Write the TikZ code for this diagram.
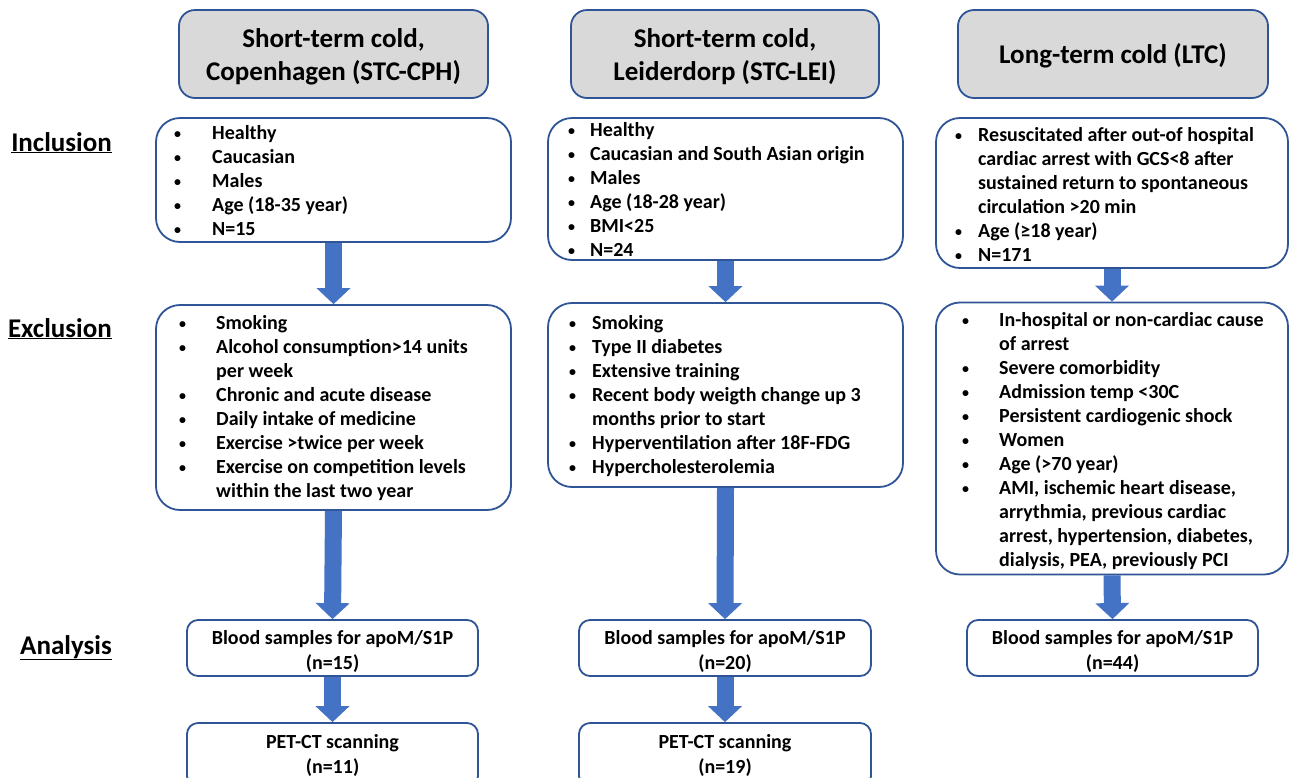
\documentclass[tikz,border=0pt]{standalone}
\usepackage{fontspec}
\setmainfont{Carlito}
\usetikzlibrary{arrows.meta}
\definecolor{bordblue}{HTML}{2F5597}
\definecolor{arrblue}{HTML}{4472C4}
\definecolor{hdrgray}{HTML}{D9D9D9}
\newcommand{\nl}{\hfil\break}
\newcommand{\smbullet}{\raisebox{1.2pt}{\fontsize{14}{14}\selectfont\textbullet}}
\newcommand{\bitem}[2]{\par\hangindent=#1\hangafter=1\noindent\makebox[#1][l]{\smbullet}#2}
\newcommand{\blist}[2]{\parbox[t]{#1}{\fontsize{20}{24}\selectfont\bfseries\raggedright #2}}
\tikzset{
  hdr/.style={draw=bordblue, line width=1.8pt, fill=hdrgray, rounded corners=16pt, inner sep=0pt},
  hdrtext/.style={inner sep=0pt, align=center, font=\fontsize{27}{33}\selectfont\bfseries},
  bigbox/.style={draw=bordblue, line width=1.8pt, fill=white, rounded corners=24pt, inner sep=0pt},
  smallbox/.style={draw=bordblue, line width=1.8pt, fill=white, rounded corners=11pt, inner sep=0pt},
  smalltext/.style={inner sep=0pt, align=center, font=\fontsize{20}{25}\selectfont\bfseries},
  listtext/.style={anchor=base west, inner sep=0pt},
  rowlabel/.style={anchor=base east, inner sep=0pt, font=\fontsize{27}{30}\selectfont\bfseries},
  bigarrow/.style={draw=arrblue, line width=17pt, -{Triangle[width=34pt,length=16pt,line width=0pt]}},
}
\begin{document}
\begin{tikzpicture}[x=1pt,y=-1pt]
\useasboundingbox (0,0) rectangle (1290,777);
\clip (0,0) rectangle (1290,777);
\fill[white] (0,0) rectangle (1290,777);

% row labels
\node[rowlabel] (linc) at (112,151) {\underline{Inclusion}};
\node[rowlabel] (lexc) at (112,337) {\underline{Exclusion}};
\node[rowlabel] (lana) at (112,654) {\underline{Analysis}};

% headers
\node[hdr, minimum width=309pt, minimum height=88pt] (h1) at (333.5,54) {};
\node[hdr, minimum width=308pt, minimum height=88pt] (h2) at (725,54) {};
\node[hdr, minimum width=310pt, minimum height=88pt] (h3) at (1113,54) {};
\node[hdrtext] (h1t) at ([yshift=-3pt]h1.center) {Short-term cold,\\Copenhagen (STC-CPH)};
\node[hdrtext] (h2t) at ([yshift=-3pt]h2.center) {Short-term cold,\\Leiderdorp (STC-LEI)};
\node[hdrtext] (h3t) at ([yshift=-2pt]h3.center) {Long-term cold (LTC)};

% inclusion boxes
\node[bigbox, minimum width=355pt, minimum height=124pt] (i1) at (333.5,180) {};
\node[bigbox, minimum width=355pt, minimum height=142pt] (i2) at (725.5,189) {};
\node[bigbox, minimum width=352pt, minimum height=150pt] (i3) at (1112,193) {};

% exclusion boxes
\node[bigbox, minimum width=355pt, minimum height=205pt] (e1) at (333.5,407.5) {};
\node[bigbox, minimum width=355pt, minimum height=184pt] (e2) at (725.5,395) {};
\node[bigbox, minimum width=352pt, minimum height=272pt] (e3) at (1112,438.5) {};

% analysis boxes
\node[smallbox, minimum width=291pt, minimum height=56pt] (a1) at (332.5,648) {};
\node[smallbox, minimum width=292pt, minimum height=56pt] (a2) at (725,648) {};
\node[smallbox, minimum width=291pt, minimum height=56pt] (a3) at (1112.5,648) {};
\node[smalltext] (a1t) at ([yshift=-3pt]a1.center) {Blood samples for apoM/S1P\\(n=15)};
\node[smalltext] (a2t) at ([yshift=-3pt]a2.center) {Blood samples for apoM/S1P\\(n=20)};
\node[smalltext] (a3t) at ([yshift=-3pt]a3.center) {Blood samples for apoM/S1P\\(n=44)};

% PET-CT boxes (cut off at bottom)
\node[smallbox, minimum width=291pt, minimum height=64pt] (p1) at (332.5,755) {};
\node[smallbox, minimum width=292pt, minimum height=64pt] (p2) at (725,755) {};
\node[smalltext] (p1t) at (p1.center) {PET-CT scanning\\(n=11)};
\node[smalltext] (p2t) at (p2.center) {PET-CT scanning\\(n=19)};

% list texts
\node[listtext] (t_i1) at (174,139.5) {\blist{330pt}{%
\bitem{38pt}{Healthy}
\bitem{38pt}{Caucasian}
\bitem{38pt}{Males}
\bitem{38pt}{Age (18-35 year)}
\bitem{38pt}{N=15}}};

\node[listtext] (t_e1) at (179,329.5) {\blist{330pt}{%
\bitem{37pt}{Smoking}
\bitem{37pt}{Alcohol consumption>14 units\nl per week}
\bitem{37pt}{Chronic and acute disease}
\bitem{37pt}{Daily intake of medicine}
\bitem{37pt}{Exercise >twice per week}
\bitem{37pt}{Exercise on competition levels\nl within the last two year}}};

\node[listtext] (t_i2) at (568,136.5) {\blist{330pt}{%
\bitem{22pt}{Healthy}
\bitem{22pt}{Caucasian and South Asian origin}
\bitem{22pt}{Males}
\bitem{22pt}{Age (18-28 year)}
\bitem{22pt}{BMI<25}
\bitem{22pt}{N=24}}};

\node[listtext] (t_e2) at (569,329.5) {\blist{330pt}{%
\bitem{23pt}{Smoking}
\bitem{23pt}{Type II diabetes}
\bitem{23pt}{Extensive training}
\bitem{23pt}{Recent body weigth change up 3\nl months prior to start}
\bitem{23pt}{Hyperventilation after 18F-FDG}
\bitem{23pt}{Hypercholesterolemia}}};

\node[listtext] (t_i3) at (955,141.5) {\blist{330pt}{%
\bitem{23pt}{Resuscitated after out-of hospital\nl cardiac arrest with GCS<8 after\nl sustained return to spontaneous\nl circulation >20 min}
\bitem{23pt}{Age (≥18 year)}
\bitem{23pt}{N=171}}};

\node[listtext] (t_e3) at (962,326.5) {\blist{330pt}{%
\bitem{37pt}{In-hospital or non-cardiac cause\nl of arrest}
\bitem{37pt}{Severe comorbidity}
\bitem{37pt}{Admission temp <30C}
\bitem{37pt}{Persistent cardiogenic shock}
\bitem{37pt}{Women}
\bitem{37pt}{Age (>70 year)}
\bitem{37pt}{AMI, ischemic heart disease,\nl arrythmia, previous cardiac\nl arrest, hypertension, diabetes,\nl dialysis, PEA, previously PCI}}};

% arrows
\draw[bigarrow] (i1.south) -- (e1.north);
\draw[bigarrow] (i2.south) -- (e2.north);
\draw[bigarrow] (i3.south) -- (e3.north);
\draw[bigarrow] (e1.south) -- (a1.north);
\draw[bigarrow] (e2.south) -- (a2.north);
\draw[bigarrow] (e3.south) -- (a3.north);
\draw[bigarrow] (a1.south) -- (p1.north);
\draw[bigarrow] (a2.south) -- (p2.north);
\end{tikzpicture}
\end{document}
